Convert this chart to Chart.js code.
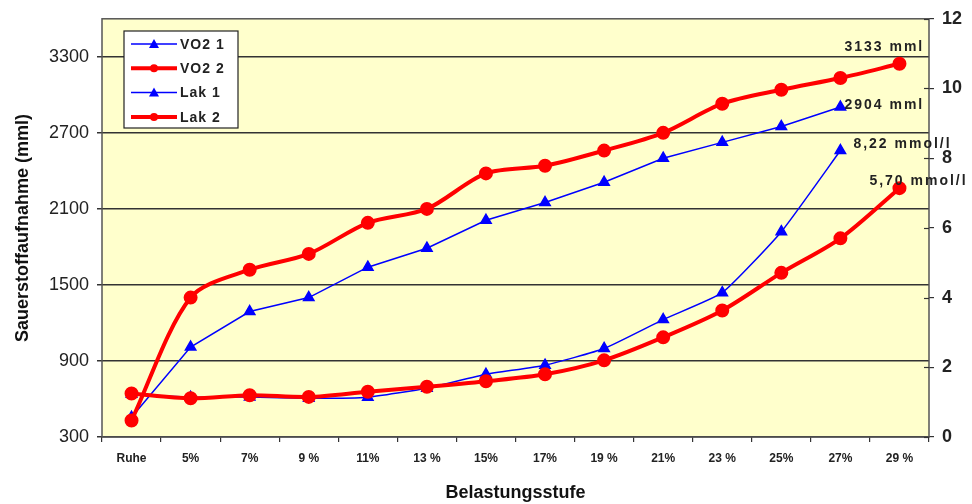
<html>
<head>
<script src="https://cdn.jsdelivr.net/npm/chart.js@4.4.1/dist/chart.umd.min.js"></script>
<style>
  body { margin: 0; background: #fff; }
  #wrap { width: 972px; height: 504px; }
</style>
</head>
<body>
<div id="wrap"><canvas id="chart" width="972" height="504"></canvas></div>
<script>
// categories and values
var stufen = ['Ruhe', '5%', '7%', '9 %', '11%', '13 %', '15%', '17%', '19 %', '21%', '23 %', '25%', '27%', '29 %'];
var vo2_1 = [455, 1010, 1290, 1400, 1640, 1790, 2010, 2150, 2310, 2500, 2625, 2750, 2904, null];
var vo2_2 = [430, 1400, 1620, 1745, 1990, 2100, 2380, 2440, 2560, 2700, 2930, 3040, 3133, 3245];
var lak_1 = [1.23, 1.14, 1.15, 1.11, 1.14, 1.40, 1.80, 2.06, 2.54, 3.37, 4.14, 5.89, 8.22, null];
var lak_2 = [1.25, 1.11, 1.20, 1.15, 1.30, 1.44, 1.60, 1.80, 2.20, 2.86, 3.63, 4.71, 5.70, 7.14];
var leftTicks = [300, 900, 1500, 2100, 2700, 3300];
var rightTicks = [0, 2, 4, 6, 8, 10, 12];

// text labels next to the 27% points
var endLabels = [
  { ds: 1, idx: 12, text: '3133 mml', dx: 4, dy: -31 },
  { ds: 0, idx: 12, text: '2904 mml', dx: 4, dy: -2 },
  { ds: 2, idx: 12, text: '8,22 mmol/l', dx: 13, dy: -6 },
  { ds: 3, idx: 12, text: '5,70 mmol/l', dx: 29, dy: -57 }
];

var FONT = "'Liberation Sans', Arial, sans-serif";
var BLUE = '#0000ff', RED = '#ff0000';

var plotBg = {
  id: 'plotBg',
  beforeDraw: function(chart) {
    var a = chart.chartArea, ctx = chart.ctx;
    ctx.save();
    ctx.fillStyle = '#ffffcc';
    ctx.fillRect(a.left, a.top, a.right - a.left, a.bottom - a.top);
    ctx.restore();
  },
  afterDatasetsDraw: function(chart) {
    var a = chart.chartArea, ctx = chart.ctx;
    ctx.save();
    ctx.strokeStyle = '#555';
    ctx.lineWidth = 1.5;
    ctx.strokeRect(a.left, a.top, a.right - a.left, a.bottom - a.top);
    // right axis tick marks cross the axis line
    var s = chart.scales.y1;
    ctx.strokeStyle = '#333';
    ctx.lineWidth = 1.2;
    rightTicks.forEach(function(v) {
      var y = Math.round(s.getPixelForValue(v)) + 0.5;
      ctx.beginPath();
      ctx.moveTo(a.right - 5, y);
      ctx.lineTo(a.right, y);
      ctx.stroke();
    });
    ctx.restore();
  }
};

function drawMarker(ctx, style, x, y, r, color) {
  ctx.fillStyle = color;
  ctx.beginPath();
  if (style === 'triangle') {
    ctx.moveTo(x, y - r);
    ctx.lineTo(x + r, y + r * 0.8);
    ctx.lineTo(x - r, y + r * 0.8);
    ctx.closePath();
  } else {
    ctx.arc(x, y, r, 0, Math.PI * 2);
  }
  ctx.fill();
}

var boxLegend = {
  id: 'boxLegend',
  afterDraw: function(chart) {
    var ctx = chart.ctx;
    ctx.save();
    ctx.fillStyle = '#fff';
    ctx.fillRect(124, 31, 114, 97);
    ctx.strokeStyle = '#222';
    ctx.lineWidth = 1.2;
    ctx.strokeRect(124, 31, 114, 97);
    ctx.font = 'bold 14px ' + FONT;
    ctx.textBaseline = 'middle';
    chart.data.datasets.forEach(function(d, i) {
      var y = 44 + i * 24.3;
      ctx.strokeStyle = d.borderColor;
      ctx.lineWidth = d.borderWidth;
      ctx.beginPath();
      ctx.moveTo(131, y);
      ctx.lineTo(177, y);
      ctx.stroke();
      drawMarker(ctx, d.pointStyle, 154, y, d.pointStyle === 'triangle' ? 5 : 4, d.borderColor);
      ctx.fillStyle = '#222';
      ctx.letterSpacing = '1px';
      ctx.fillText(d.label, 180, y + 1);
    });
    ctx.restore();
  }
};

var pointLabels = {
  id: 'pointLabels',
  afterDraw: function(chart) {
    var ctx = chart.ctx;
    ctx.save();
    ctx.font = 'bold 14px ' + FONT;
    ctx.fillStyle = '#222';
    ctx.textBaseline = 'middle';
    ctx.letterSpacing = '2px';
    endLabels.forEach(function(l) {
      var p = chart.getDatasetMeta(l.ds).data[l.idx];
      ctx.fillText(l.text, p.x + l.dx, p.y + l.dy);
    });
    ctx.restore();
  }
};

new Chart(document.getElementById('chart'), {
  type: 'line',
  data: {
    labels: stufen,
    datasets: [
      { label: 'VO2 1', data: vo2_1, yAxisID: 'y', borderColor: BLUE, backgroundColor: BLUE,
        borderWidth: 1.5, pointStyle: 'triangle', pointRadius: 6, tension: 0, order: 3 },
      { label: 'VO2 2', data: vo2_2, yAxisID: 'y', borderColor: RED, backgroundColor: RED,
        borderWidth: 4, pointStyle: 'circle', pointRadius: 5, tension: 0.3, order: 1 },
      { label: 'Lak 1', data: lak_1, yAxisID: 'y1', borderColor: BLUE, backgroundColor: BLUE,
        borderWidth: 1.5, pointStyle: 'triangle', pointRadius: 6, tension: 0.15, order: 4 },
      { label: 'Lak 2', data: lak_2, yAxisID: 'y1', borderColor: RED, backgroundColor: RED,
        borderWidth: 4, pointStyle: 'circle', pointRadius: 5, tension: 0.3, order: 2 }
    ]
  },
  options: {
    responsive: false,
    animation: false,
    layout: { padding: { top: 17, left: 0, right: 0, bottom: 0 } },
    elements: { point: { borderWidth: 0 } },
    plugins: { legend: { display: false }, tooltip: { enabled: false } },
    scales: {
      x: {
        offset: true,
        grid: { display: true, drawOnChartArea: false, offset: true, tickLength: 5, color: '#333', lineWidth: 1.2 },
        border: { display: false },
        ticks: { color: '#222', font: { family: FONT, size: 12, weight: 'bold' }, padding: 9, maxRotation: 0, autoSkip: false },
        title: { display: true, text: 'Belastungsstufe', color: '#111', font: { family: FONT, size: 18, weight: 'bold' }, padding: { top: 10, bottom: 0 } },
        afterFit: function(s) { s.height = 67; }
      },
      y: {
        position: 'left',
        min: 300, max: 3600,
        afterBuildTicks: function(s) { s.ticks = leftTicks.map(function(v) { return { value: v }; }); },
        grid: { color: '#333', lineWidth: 1.5, tickLength: 5 },
        border: { display: false },
        ticks: { color: '#222', font: { family: FONT, size: 18 }, padding: 8, callback: function(v) { return String(v); } },
        title: { display: true, text: 'Sauerstoffaufnahme (mml)', color: '#111', font: { family: FONT, size: 18, weight: 'bold' }, padding: { top: 12, bottom: 0 } },
        afterFit: function(s) { s.width = 102; }
      },
      y1: {
        position: 'right',
        min: 0, max: 12,
        afterBuildTicks: function(s) { s.ticks = rightTicks.map(function(v) { return { value: v }; }); },
        grid: { drawOnChartArea: false, color: '#333', lineWidth: 1.2, tickLength: 5 },
        border: { display: false },
        ticks: { color: '#222', font: { family: FONT, size: 18, weight: 'bold' }, padding: 8 },
        afterFit: function(s) { s.width = 43; }
      }
    }
  },
  plugins: [plotBg, boxLegend, pointLabels]
});
</script>
</body>
</html>
